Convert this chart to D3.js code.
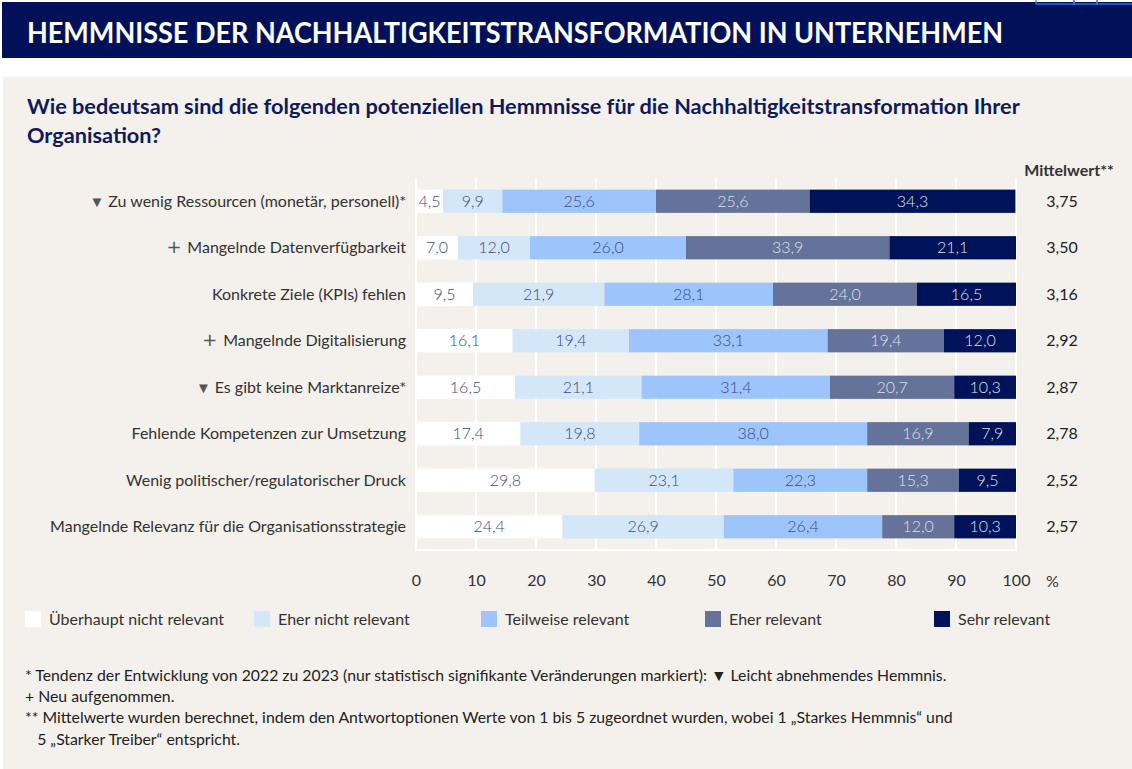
<!doctype html>
<html>
<head>
<meta charset="utf-8">
<style>
    body { margin: 0; background: #fff; }
    svg { display: block; font-family: Lato, "Noto Sans", sans-serif; }
</style>
<script src="https://d3js.org/d3.v7.min.js"></script>
</head>
<body>

<svg id="chart" width="1132" height="769"></svg>

<script>
// Categories (top to bottom) with trend markers
var categories = [
  "Zu wenig Ressourcen (monetär, personell)*",
  "Mangelnde Datenverfügbarkeit",
  "Konkrete Ziele (KPIs) fehlen",
  "Mangelnde Digitalisierung",
  "Es gibt keine Marktanreize*",
  "Fehlende Kompetenzen zur Umsetzung",
  "Wenig politischer/regulatorischer Druck",
  "Mangelnde Relevanz für die Organisationsstrategie"
];
var markers = ["▼", "+", "", "+", "▼", "", "", ""];

var seriesNames = ["Überhaupt nicht relevant", "Eher nicht relevant", "Teilweise relevant", "Eher relevant", "Sehr relevant"];
var ueberhauptNicht = [4.5, 7.0, 9.5, 16.1, 16.5, 17.4, 29.8, 24.4];
var eherNicht       = [9.9, 12.0, 21.9, 19.4, 21.1, 19.8, 23.1, 26.9];
var teilweise       = [25.6, 26.0, 28.1, 33.1, 31.4, 38.0, 22.3, 26.4];
var eherRelevant    = [25.6, 33.9, 24.0, 19.4, 20.7, 16.9, 15.3, 12.0];
var sehrRelevant    = [34.3, 21.1, 16.5, 12.0, 10.3, 7.9, 9.5, 10.3];
var mittelwert      = ["3,75", "3,50", "3,16", "2,92", "2,87", "2,78", "2,52", "2,57"];
var xTicks = [0, 10, 20, 30, 40, 50, 60, 70, 80, 90, 100];

var colors = ["#ffffff", "#d3e7f8", "#9ec5fb", "#65729a", "#00135a"];
var labelColors = ["#3b4a86", "#3b4a86", "#3b4a86", "#dde1ea", "#dde1ea"];

var footnotes = [
  "* Tendenz der Entwicklung von 2022 zu 2023 (nur statistisch signifikante Veränderungen markiert): ▼ Leicht abnehmendes Hemmnis.",
  "+ Neu aufgenommen.",
  "** Mittelwerte wurden berechnet, indem den Antwortoptionen Werte von 1 bis 5 zugeordnet wurden, wobei 1 „Starkes Hemmnis“ und",
  "   5 „Starker Treiber“ entspricht."
];

var svg = d3.select("#chart");

// header band
svg.append("rect").attr("x", 2).attr("y", 2).attr("width", 1130).attr("height", 56).attr("fill", "#00115a");
[[1036, 38], [1074, 23], [1097, 36]].forEach(function (b) {
  svg.append("rect").attr("x", b[0]).attr("y", -2).attr("width", b[1]).attr("height", 6)
    .attr("fill", "none").attr("stroke", "#2a8be6").attr("stroke-width", 1.2);
});
var t = svg.append("text").attr("x", 27).attr("y", 43)
  .attr("fill", "#fff").attr("font-size", 29).attr("font-weight", 700)
  .text("HEMMNISSE DER NACHHALTIGKEITSTRANSFORMATION IN UNTERNEHMEN");
if (t.node().getComputedTextLength() > 976) t.attr("textLength", 976).attr("lengthAdjust", "spacingAndGlyphs");

// panel
svg.append("rect").attr("x", 3).attr("y", 77).attr("width", 1129).attr("height", 692).attr("fill", "#f4f0eb");

var q = svg.append("g").attr("fill", "#0e1a5c").attr("font-size", 21.7).attr("font-weight", 700);
q.append("text").attr("x", 27).attr("y", 114).text("Wie bedeutsam sind die folgenden potenziellen Hemmnisse für die Nachhaltigkeitstransformation Ihrer");
q.append("text").attr("x", 27).attr("y", 143).text("Organisation?");

// scales
var x = d3.scaleLinear().domain([0, 100]).range([416, 1016]);
var y = d3.scaleBand().domain(categories).range([178, 550]).paddingInner(0.5).paddingOuter(0.25);

// grid
var grid = svg.append("g").attr("stroke", "#fff").attr("stroke-width", 2);
grid.selectAll("line.v").data(xTicks).enter().append("line")
  .attr("x1", d => x(d)).attr("x2", d => x(d)).attr("y1", 178).attr("y2", 550);
grid.append("line").attr("x1", x(0) - 1).attr("x2", x(100) + 1).attr("y1", 550).attr("y2", 550);

// stacked data
var rows = categories.map(function (c, i) {
  return { cat: c, s0: ueberhauptNicht[i], s1: eherNicht[i], s2: teilweise[i], s3: eherRelevant[i], s4: sehrRelevant[i] };
});
var keys = ["s0", "s1", "s2", "s3", "s4"];
var stack = d3.stack().keys(keys)(rows);

var layers = svg.append("g").selectAll("g").data(stack).enter().append("g");
layers.selectAll("rect").data(d => d).enter().append("rect")
  .attr("x", d => x(d[0]))
  .attr("y", d => y(d.data.cat))
  .attr("width", d => x(d[1]) - x(d[0]))
  .attr("height", y.bandwidth())
  .attr("fill", function () { return colors[keys.indexOf(d3.select(this.parentNode).datum().key)]; });

layers.each(function (layer, li) {
  d3.select(this).selectAll("text").data(layer).enter().append("text")
    .attr("x", d => (x(d[0]) + x(d[1])) / 2)
    .attr("y", d => y(d.data.cat) + y.bandwidth() / 2 + 5.5)
    .attr("text-anchor", "middle")
    .attr("font-size", 16).attr("font-weight", 300)
    .attr("fill", labelColors[li])
    .text(d => d3.format(".1f")(d[1] - d[0]).replace(".", ","));
});

// category labels
var lab = svg.append("g").attr("font-size", 16).attr("fill", "#333");
categories.forEach(function (c, i) {
  var tx = lab.append("text").attr("x", 406).attr("y", y(c) + y.bandwidth() / 2 + 5.5).attr("text-anchor", "end");
  if (markers[i]) tx.append("tspan").attr("fill", "#555")
    .attr("font-family", markers[i] === "▼" ? null : "DejaVu Sans")
    .attr("font-size", markers[i] === "▼" ? 15 : 18).text(markers[i] + " ");
  tx.append("tspan").text(c);
});

// mean column
svg.append("text").attr("x", 1069).attr("y", 176).attr("text-anchor", "middle")
  .attr("font-size", 16).attr("font-weight", 700).attr("fill", "#333").text("Mittelwert**");
svg.append("g").selectAll("text").data(mittelwert).enter().append("text")
  .attr("x", 1062).attr("y", (d, i) => y(categories[i]) + y.bandwidth() / 2 + 5.5)
  .attr("text-anchor", "middle").attr("font-size", 16).attr("fill", "#222").text(d => d);

// x axis
var xAxis = svg.append("g").attr("transform", "translate(0,575)")
  .call(d3.axisBottom(x).tickValues(xTicks).tickSize(0).tickPadding(0).tickFormat(d3.format("d")));
xAxis.select(".domain").remove();
xAxis.selectAll("text").attr("font-family", "Lato").attr("font-size", 16).attr("fill", "#333").attr("dy", "0.71em");
svg.append("text").attr("x", 1046).attr("y", 587).attr("font-size", 16).attr("fill", "#333").text("%");

// legend
var legendX = [25, 254, 481, 705, 934];
var leg = svg.append("g").selectAll("g").data(seriesNames).enter().append("g")
  .attr("transform", (d, i) => "translate(" + legendX[i] + ",611)");
leg.append("rect").attr("width", 16).attr("height", 16).attr("fill", (d, i) => colors[i]);
leg.append("text").attr("x", 24).attr("y", 13.5).attr("font-size", 16).attr("fill", "#333").text(d => d);

// footnotes
var fn = svg.append("g").attr("font-size", 15.8).attr("fill", "#222");
var fnY = [681, 702, 723, 745];
var fnW = [925, 0, 932, 0];
footnotes.forEach(function (f, i) {
  var tx = fn.append("text").attr("x", 25).attr("y", fnY[i]).attr("xml:space", "preserve").text(f);
  if (fnW[i] && tx.node().getComputedTextLength() > fnW[i]) tx.attr("textLength", fnW[i]).attr("lengthAdjust", "spacingAndGlyphs");
});
</script>

</body>
</html>
